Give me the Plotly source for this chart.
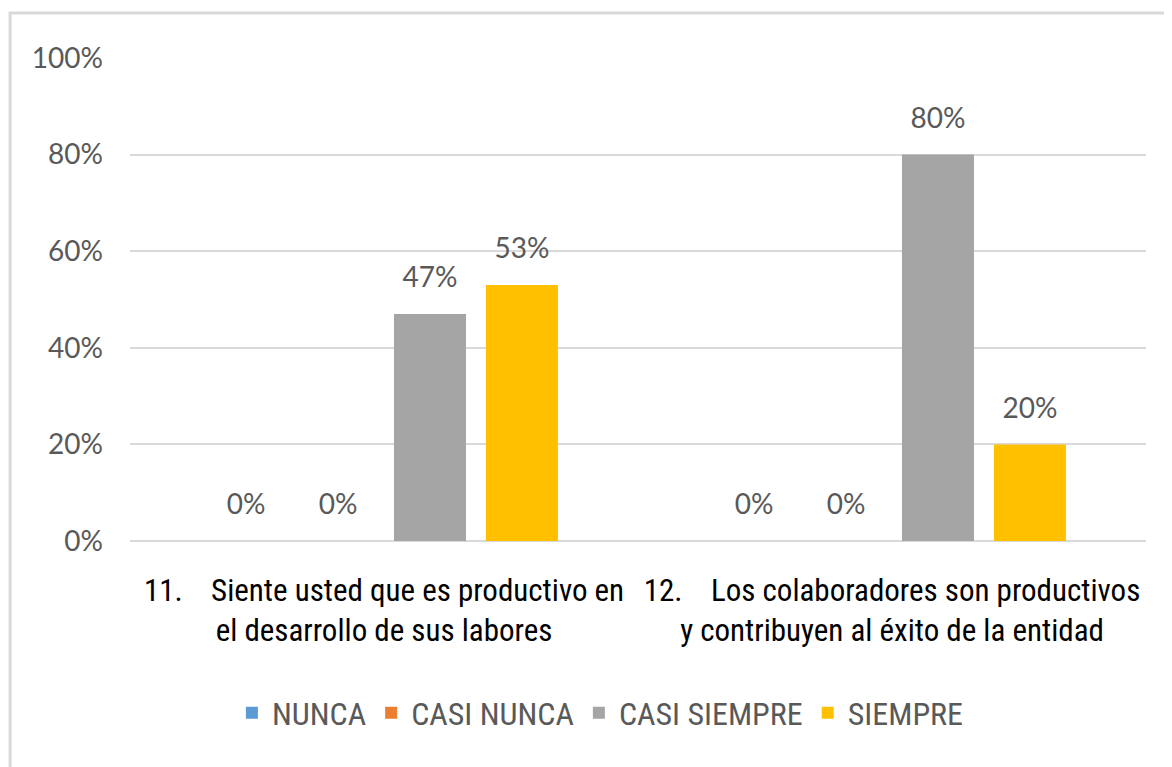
import plotly.graph_objects as go

# Datos del gráfico
categorias = ["11.", "12."]
etiquetas_categorias = [
    "11.\u00a0\u00a0\u00a0\u00a0Siente usted que es productivo en<br>el desarrollo de sus labores",
    "12.\u00a0\u00a0\u00a0\u00a0Los colaboradores son productivos<br>y contribuyen al éxito de la entidad",
]
series = ["NUNCA", "CASI NUNCA", "CASI SIEMPRE", "SIEMPRE"]
nunca = [0.0, 0.0]
casi_nunca = [0.0, 0.0]
casi_siempre = [0.47, 0.80]
siempre = [0.53, 0.20]
colores = ["#5B9BD5", "#ED7D31", "#A5A5A5", "#FFC000"]

valores = [nunca, casi_nunca, casi_siempre, siempre]

gris_texto = "#595959"
fuente_num = "Lato, Carlito, sans-serif"
fuente_narrow = "Liberation Sans Narrow, Roboto Condensed, Lato, sans-serif"

fig = go.Figure()

# barras
for i, (nombre, vals, color) in enumerate(zip(series, valores, colores)):
    fig.add_trace(go.Bar(
        x=categorias,
        y=vals,
        name=nombre,
        offsetgroup=str(i),
        marker=dict(color=color, line=dict(width=0)),
        hoverinfo="skip",
    ))

# etiquetas de datos (texto por encima de cada barra)
for i, vals in enumerate(valores):
    fig.add_trace(go.Scatter(
        x=categorias,
        y=vals,
        mode="markers+text",
        offsetgroup=str(i),
        text=[f"{round(v * 100)}%" for v in vals],
        textposition="top center",
        textfont=dict(family=fuente_num, size=28, color=gris_texto),
        marker=dict(size=30, color="rgba(0,0,0,0)"),
        cliponaxis=False,
        showlegend=False,
        hoverinfo="skip",
    ))

fig.update_layout(
    width=1164,
    height=759,
    margin=dict(l=122, r=26, t=50, b=226),
    paper_bgcolor="white",
    plot_bgcolor="white",
    barmode="group",
    bargap=0.276,
    bargroupgap=0.217,
    scattermode="group",
    scattergap=0.276,
    showlegend=True,
    legend=dict(
        orientation="h",
        x=0.463,
        xanchor="center",
        y=-0.356,
        yanchor="middle",
        font=dict(family=fuente_narrow, size=32, color=gris_texto),
        itemwidth=30,
        traceorder="normal",
    ),
    xaxis=dict(
        tickmode="array",
        tickvals=categorias,
        ticktext=etiquetas_categorias,
        tickfont=dict(family=fuente_narrow, size=31, color="#000000"),
        tickangle=0,
        automargin=False,
        showgrid=False,
        showline=False,
        ticks="",
        ticklabelstandoff=28,
    ),
    yaxis=dict(
        range=[0, 1],
        tickvals=[0, 0.2, 0.4, 0.6, 0.8, 1.0],
        tickformat=".0%",
        tickfont=dict(family=fuente_num, size=28, color=gris_texto),
        automargin=False,
        showgrid=True,
        gridcolor="#D9D9D9",
        gridwidth=2,
        zeroline=True,
        zerolinecolor="#D9D9D9",
        zerolinewidth=2,
        showline=False,
        ticks="",
        ticklabelstandoff=26,
    ),
    shapes=[
        dict(
            type="rect",
            xref="paper",
            yref="paper",
            x0=-0.118,
            x1=1.2,
            y0=-0.7,
            y1=1.093,
            line=dict(color="#D9D9D9", width=3),
            fillcolor="rgba(0,0,0,0)",
            layer="below",
        )
    ],
)

fig.write_html("out.html")
